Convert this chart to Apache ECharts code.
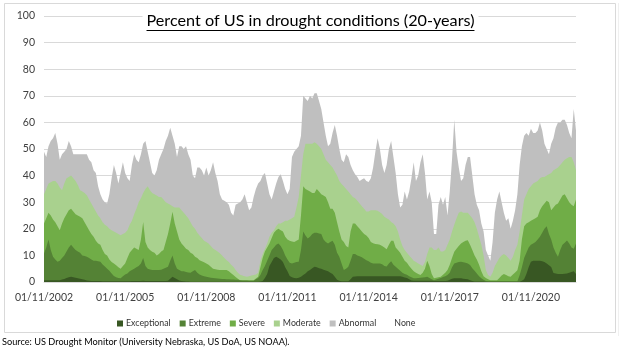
<!DOCTYPE html>
<html>
<head>
<meta charset="utf-8">
<script src="https://cdn.jsdelivr.net/npm/echarts@6/dist/echarts.min.js"></script>
<style>
html,body{margin:0;padding:0;background:#fff;}
#c{width:621px;height:359px;}
</style>
</head>
<body>
<div id="c"></div>
<script>
// Percent of US area in each drought category or worse (cumulative levels), monthly from Nov 2002
const abnormal = [
49,47,51,53,54,56,52,46,48,49,50,53,
51,48,48,48,48,48,48,48,46,45,42,41,
36,33,31,30,29.5,33,39,44,41,37,41,45,
41,39,38,44,48,46,45,48,52,53,49,45,
41,40,42,46,48,50,53,55,58,55,52,47,
51,51,50,51,48,46,40,39,43,43,42,40,
43,40,42,45,41,38,33,31,30.5,30,29,26,
25,29,29.5,30,31,33,30,27,28,32,35,37,
38,40,41,37,33,31,34,37,39.5,40.5,38,35,
33,35,47,49,50,51,55,70,69,68,70,69,
71,71,68,65,60,55,51,52,56,59,55,50,
46,45,48,47,44,42,40.5,39.5,38,38.5,39,38,
37.6,39,43,49,54,50,44,41,44,50,53,47,
41,33,28,29,34,31,34,39,45,38,40,45,
48,41,31,34,30,18,18,29,32,29,32,25,
34,46,61,49,43,38,39,44,47,47,40,33,
29,27,22,19,12,10,8,15,26,31,34,30,
26,23,24,20,23,27,33,44,51,55,56,55,
57.6,56,56,57,60,57,52,50,48,52,54,58,
60,60,61,61,59,56,54,65,57
];
const moderate = [
33,35,37,37.5,38,38,37,35.5,34.5,37,39,39.5,
40,39,38,36.5,34.5,34,33.5,32.6,31,29.5,28,26.5,
25,24,22.5,21.5,21,20,19.5,19,18.5,18,17.6,18,
18.5,19.5,21.5,23,25.5,27.5,30,31.5,33.5,35,36,34.5,
33.5,33,32.5,32,32,31,30,29.5,29,28.5,28,28,
28,27,26,25,24,22.5,21,20,18.5,17.5,16.5,15.5,
15,14.5,13.5,12.6,12,11.5,10.8,10,9,8.2,7.5,6.5,
5.7,4.5,3.5,2.7,2.4,2.2,2,2.2,2.4,2.6,2.8,3.5,
8,10.5,12.5,14.5,17,18.5,19.5,21,22,22,22.5,23,
23,23.5,24,24.5,28,32,40,48,52,52,52,52,
52.5,52,51,50,48,46,45,44,43,41.5,40,38,
36.8,36,35,34,33,32,31.5,30.5,29.5,28.5,27.5,26.5,
26.5,27,27,27,26.8,26.2,25.6,24.5,24,23.5,22.6,22,
21,19,16,13.5,12,11,10,9,8,7.5,7,6.5,
6,7.5,10.5,13,13,12,12,13,11.5,11.5,12,14,
16,19,21.5,24,26,26.5,26,26,26,25,24,22.5,
20,17,14,10,4.5,2.6,2,3.5,6,7.5,9,10,
10.5,10,9,8,9.5,12,14,19,25,31,33,35,
36,37,37.5,38,39,39.5,39.5,40,40.5,41,42,42.5,
43,44,45,46,46.5,47,47,45,42
];
const severe = [
22,24,26,25,23.5,22.5,21,19.5,22,24,25.5,27,
27.5,26.5,25.5,25,24.5,24,22.5,21,19.5,18,17,15.5,
14.5,14,12,10.5,10,8.5,7.5,7,6.3,5.5,5,6,
7,9,11,12,13,12.5,12,16,22.6,15,13,12,
11.4,11,10,10.5,11.5,12,15,18,22,26.4,22,19,
16,14.5,13.5,12.5,12,11,10.5,9.5,9,8.2,7.8,7.4,
7,6.5,5.7,5,4.8,4.6,4.5,4.5,4.5,4.5,4,3.3,
2.6,1.9,1.2,0.7,0.7,0.7,0.7,0.7,0.7,0.7,1.3,2,
5.5,9,11.5,13,14.5,16.5,18.5,19.5,20,19.5,19,17,
16,15.5,15.2,15,15.5,16,25,36,35,34.5,34,33.5,
33.5,35,34,33,32.5,32,30,27.5,27.5,26,22.5,19,
16,15,13.5,13,19,22,22,21,20,19,18,17.5,
16.5,15,14.6,14.3,14.2,14,13.5,13,12.3,14,15.5,15.5,
13,12,11,9.5,8,7.2,6,5,4,3.5,3,2.6,
3.5,5,8,6,3,1.4,1.6,1.8,2,2.7,3.5,4.5,
6.5,9,11.4,12.5,13.5,14.5,15,15.5,15.7,14,12,10,
8.5,6.5,4,2.2,1.5,1,0.7,0.7,0.7,0.7,1.5,2.4,
3,2.6,2.2,2,2.8,3.6,4.4,8,16,21,22,22.5,
23,23.5,24,24.5,27,28.5,29.5,30.5,30,27,28,29,
29.5,31,32.5,33,31.5,30,29,28.5,31
];
const extreme = [
10.7,13,16,12,9.5,8.5,7.6,8,9,10,11.5,13,
14,13,12,11.5,11,10,9.8,9.5,9,8.5,8,8,
7.8,7.6,6.6,5.8,5,4.2,3.2,2.3,1.8,1.5,1.4,2.2,
2.8,3.2,4,4.5,5,5.5,6,7,9,6,5,4.7,
4.5,4.5,4.5,4.5,4.6,5,5.4,5.7,8,10,7,5,
4.5,4,4,3.8,3.6,3.5,4,4.5,3.5,2.8,2.4,2.2,
2,1.8,1.6,1.5,1.4,1.3,1.2,1.1,1.1,1,1,0.9,
0.9,0.8,0.8,0.7,0.6,0.6,0.6,0.5,0.5,0.5,1,1.5,
2.6,4.5,6,8,10,12,13,14,14.5,13.5,12,10,
8.5,7.2,7,7.2,7.5,7.6,12,19,17.5,16.4,17,18,
18.5,18.5,18.2,18,16,15,14.5,15,15.5,14,11,9.5,
7,4.5,5,5.7,8,10.5,10.5,10,9.7,9.3,8.7,8.2,
7.8,7.2,7,7,7,7,6.7,6,5.8,7,7.8,6.5,
5.7,5,4.2,3.5,3,2.7,2.2,1.8,1.4,1.4,1.5,1.6,
1.7,1.8,2,1.5,1,0.7,0.9,1.2,1.5,1.9,2.2,2.6,
3.5,5.5,7,7.2,7.5,7.6,7.4,7.2,7,6.4,5.2,4.2,
3.2,2.2,1.4,0.8,0.4,0.3,0.3,0.3,0.3,0.3,0.3,0.3,
0.3,0.3,0.3,0.3,0.3,0.3,0.3,2.5,5.5,9,11,13,
14,14.5,15,16,17,18.5,20,21,18,16,13,11,
9.5,12,14,14.8,15.6,14.5,13,12.5,14.5
];
const exceptional = [
0.7,0.7,0.7,0.7,0.7,0.7,0.7,0.7,0.9,1.1,1.5,1.8,
2,1.8,1.6,1.4,1.2,1,0.8,0.6,0.5,0.4,0.4,0.4,
0.4,0.4,0.3,0.3,0.3,0.3,0.3,0.3,0.3,0.3,0.3,0.3,
0.3,0.3,0.3,0.4,0.4,0.4,0.4,0.4,0.5,0.4,0.4,0.4,
0.4,0.4,0.4,0.4,0.4,0.4,0.4,0.5,1.2,2,1.5,1,
0.6,0.4,0.3,0.2,0.2,0.1,0.1,0.1,0.1,0.1,0.1,0.1,
0.1,0.1,0.1,0.1,0.1,0.1,0.1,0.1,0.1,0.1,0.1,0.1,
0.1,0.1,0.1,0.1,0.1,0.1,0.1,0.1,0.1,0.1,0.1,0.1,
0.2,0.4,1.5,3,6,7.5,9,9.5,9,8.5,7.5,5.5,
4,2.3,1.8,1.5,1.4,1.6,2,2.6,3.2,4,4.5,5.2,
5.7,5.5,5.2,5,4.6,4.3,4,3.5,3,2,0.8,0.5,
0.3,0.3,0.3,0.3,1,2,2.1,2.2,2.2,2.2,2.2,2.2,
2.2,2.2,2.2,2.2,2.2,2.2,2.2,2.2,2.2,2.2,2.2,2.2,
2.2,2.2,2.2,2,1.7,1.5,1,0.6,0.5,0.5,0.5,0.5,
0.5,0.5,0.5,0.5,0.5,0.4,0.4,0.4,0.4,0.4,0.4,0.5,
0.8,1.2,1.4,1.4,1.4,1.4,1.2,1.1,1,0.7,0.4,0.2,
0.2,0.2,0.2,0.2,0.1,0.1,0.1,0.1,0.1,0.1,0.1,0.1,
0.1,0.1,0.1,0.1,0.1,0.1,0.1,0.1,0.5,1,3,5.5,
7.6,8,8,8,8,7.8,7.5,7,6.3,5.6,3.4,3.2,
3,3,3,3.1,3.2,3.5,3.8,4,3
];
const legendNames = ['Exceptional','Extreme','Severe','Moderate','Abnormal','None'];
const titleText = 'Percent of US in drought conditions (20-years)';
const sourceText = 'Source: US Drought Monitor (University Nebraska, US DoA, US NOAA).';

// monthly date categories (dd/mm/yyyy), starting 01/11/2002
const categories = [];
for (let i = 0; i < abnormal.length; i++) {
  const mm = (10 + i) % 12 + 1;
  const yy = 2002 + Math.floor((10 + i) / 12);
  categories.push('01/' + String(mm).padStart(2, '0') + '/' + yy);
}

const FONT = 'Lato';
const titleSize = 16.2;
const cv = document.createElement('canvas').getContext('2d');
cv.font = titleSize + 'px ' + FONT;
const tw = cv.measureText(titleText).width;

const chart = echarts.init(document.getElementById('c'), null, {renderer: 'canvas'});

function area(name, data, color) {
  return {
    name: name, type: 'line', data: data, showSymbol: false, symbol: 'none',
    lineStyle: {width: 0}, itemStyle: {color: color}, color: color,
    areaStyle: {color: color, opacity: 1}, animation: false, z: 2
  };
}

chart.setOption({
  animation: false,
  backgroundColor: '#fff',
  title: {
    text: titleText, left: 'center', top: 11, padding: [2, 4, 3, 4],
    backgroundColor: '#fff',
    textStyle: {fontFamily: FONT, fontSize: titleSize, fontWeight: 'normal', color: '#000'}
  },
  grid: {left: 44, right: 45, top: 16, bottom: 77, containLabel: false},
  legend: {
    data: legendNames, left: 112, top: 314, icon: 'rect', itemWidth: 6, itemHeight: 6, itemGap: 9,
    textStyle: {fontFamily: FONT, fontSize: 8.8, color: '#333333', padding: [0, 0, 0, -2]},
    selectedMode: false
  },
  xAxis: {
    type: 'category', data: categories, boundaryGap: false,
    axisLine: {show: true, lineStyle: {color: '#D9D9D9'}},
    axisTick: {show: false},
    axisLabel: {interval: 35, fontFamily: FONT, fontSize: 10.5, color: '#404040', margin: 10, hideOverlap: false},
    splitLine: {show: false}
  },
  yAxis: {
    type: 'value', min: 0, max: 100, interval: 10,
    axisLine: {show: false}, axisTick: {show: false},
    axisLabel: {fontFamily: FONT, fontSize: 10.5, color: '#404040', margin: 9},
    splitLine: {lineStyle: {color: '#D9D9D9', width: 1}}
  },
  graphic: [
    {type: 'rect', z: -10, silent: true, shape: {x: 4.5, y: 3.5, width: 611, height: 329},
     style: {fill: 'none', stroke: '#D9D9D9', lineWidth: 1}},
    {type: 'line', z: -10, silent: true, shape: {x1: 618.5, y1: 3, x2: 618.5, y2: 336},
     style: {stroke: '#F0F0F0', lineWidth: 1}},
    {type: 'line', z: 100, silent: true, shape: {x1: 310.5 - tw / 2, y1: 30.5, x2: 310.5 + tw / 2, y2: 30.5},
     style: {stroke: '#000', lineWidth: 1}},
    {type: 'text', left: 2, top: 338, silent: true,
     style: {text: sourceText, font: '9.2px ' + FONT, fill: '#000'}}
  ],
  series: [
    area('Abnormal', abnormal, '#BFBFBF'),
    area('Moderate', moderate, '#A9D18E'),
    area('Severe', severe, '#70AD47'),
    area('Extreme', extreme, '#548235'),
    area('Exceptional', exceptional, '#385723'),
    {name: 'None', type: 'line', data: [], itemStyle: {color: '#ffffff'}, color: '#ffffff', showSymbol: false}
  ]
});
</script>
</body>
</html>
